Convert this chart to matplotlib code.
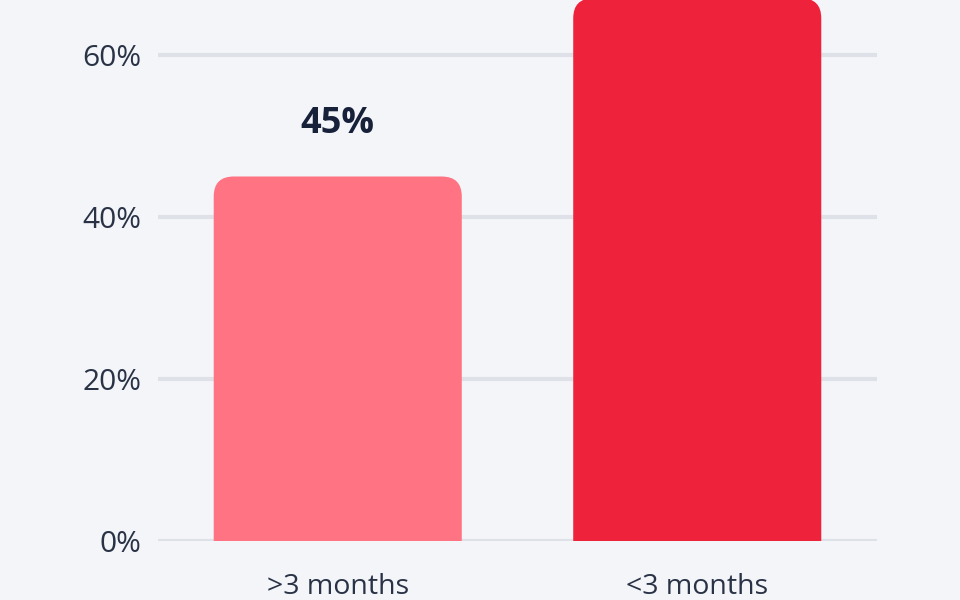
import matplotlib
matplotlib.use("Agg")
import matplotlib.pyplot as plt
from matplotlib.patches import PathPatch
from matplotlib.path import Path
from matplotlib.ticker import FuncFormatter

categories = [">3 months", "<3 months"]
values = [45, 67]
bar_colors = ["#FF7383", "#EE223B"]
labeled = [True, False]
yticks = [0, 20, 40, 60]

BG = "#F3F5F9"
GRID = "#DEE1E7"
TEXT = "#2A3346"
LABEL = "#18213A"

plt.rcParams["font.family"] = ["Open Sans", "DejaVu Sans"]

fig = plt.figure(figsize=(9.6, 6.0), dpi=100, facecolor=BG)
ax = fig.add_axes([158 / 960, 59 / 600, (877 - 158) / 960, 541 / 600])
ax.set_facecolor(BG)
ymax = 60 * 541 / 486
ax.set_xlim(-0.5, 1.5)
ax.set_ylim(0, ymax)

for s in ax.spines.values():
    s.set_visible(False)

ax.set_yticks(yticks)
ax.yaxis.set_major_formatter(FuncFormatter(lambda v, p: f"{int(v)}%"))
ax.grid(axis="y", color=GRID, linewidth=3.0, zorder=0)
ax.set_axisbelow(True)
ax.tick_params(axis="y", length=0, pad=12, labelsize=21.5, labelcolor=TEXT)
ax.tick_params(axis="x", length=0, pad=23, labelsize=20.5, labelcolor=TEXT)
ax.set_xticks(range(len(categories)))
ax.set_xticklabels(categories)

width = 0.69
# corner radius of ~20 px, expressed in each axis' data units
r_px = 20
rx = r_px * 2.0 / (877 - 158)
ry = r_px * ymax / 541


def top_rounded_bar(xc, h):
    x0, x1 = xc - width / 2, xc + width / 2
    verts = [(x0, 0), (x0, h - ry), (x0, h), (x0 + rx, h),
             (x1 - rx, h), (x1, h), (x1, h - ry), (x1, 0), (x0, 0)]
    codes = [Path.MOVETO, Path.LINETO, Path.CURVE3, Path.CURVE3,
             Path.LINETO, Path.CURVE3, Path.CURVE3, Path.LINETO, Path.CLOSEPOLY]
    return Path(verts, codes)


for i, (v, c) in enumerate(zip(values, bar_colors)):
    ax.add_patch(PathPatch(top_rounded_bar(i, v), facecolor=c,
                           edgecolor="none", zorder=2))
    if labeled[i]:
        ax.annotate(f"{v}%", (i, v), xytext=(0, 25), textcoords="offset points",
                    ha="center", va="bottom", fontsize=26, fontweight="bold",
                    color=LABEL, annotation_clip=False)

fig.savefig("out.png", dpi=100, facecolor=BG)
